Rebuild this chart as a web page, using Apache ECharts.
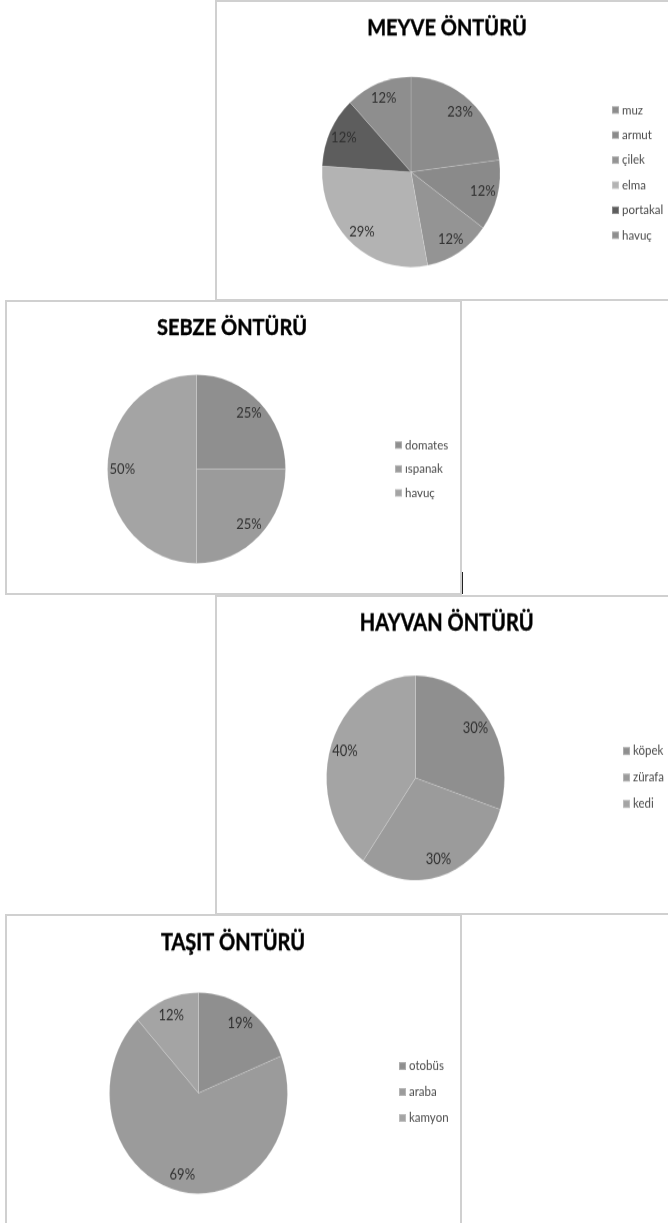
<!DOCTYPE html>
<html>
<head>
<meta charset="utf-8">
<script src="https://cdn.jsdelivr.net/npm/echarts@6/dist/echarts.min.js"></script>
<style>
  html, body { margin: 0; padding: 0; background: #fff; width: 668px; height: 1223px; overflow: hidden; position: relative; }
  .frame { position: absolute; box-sizing: border-box; border: 2px solid #d0d0d0; background: #fff; overflow: hidden; }
  .plot { position: absolute; left: -2px; top: -2px; transform-origin: 0 0; }
  .tick { position: absolute; left: 462px; top: 572px; width: 1px; height: 22px; background: #222; }
</style>
</head>
<body>
<div class="frame" id="f1" style="left:215px;top:0px;width:470px;height:301px;"><div class="plot" id="c1"></div></div>
<div class="frame" id="f2" style="left:5px;top:300px;width:457px;height:295px;"><div class="plot" id="c2"></div></div>
<div class="frame" id="f3" style="left:215px;top:595px;width:470px;height:320px;"><div class="plot" id="c3"></div></div>
<div class="frame" id="f4" style="left:5px;top:914px;width:457px;height:320px;"><div class="plot" id="c4"></div></div>
<div class="tick"></div>
<script>
// Fruit preferences
const meyveTitle = 'MEYVE ÖNTÜRÜ';
const meyveNames = ['muz', 'armut', 'çilek', 'elma', 'portakal', 'havuç'];
const meyveValues = [23, 12, 12, 29, 12, 12];

// Vegetable preferences
const sebzeTitle = 'SEBZE ÖNTÜRÜ';
const sebzeNames = ['domates', 'ıspanak', 'havuç'];
const sebzeValues = [25, 25, 50];

// Animal preferences
const hayvanTitle = 'HAYVAN ÖNTÜRÜ';
const hayvanNames = ['köpek', 'zürafa', 'kedi'];
const hayvanValues = [30, 30, 40];

// Vehicle preferences
const tasitTitle = 'TAŞIT ÖNTÜRÜ';
const tasitNames = ['otobüs', 'araba', 'kamyon'];
const tasitValues = [19, 69, 12];

// Grey palettes, one per chart
const meyveColors = ['#8c8c8c', '#8a8a8a', '#949494', '#b3b3b3', '#5d5d5d', '#8e8e8e'];
const triColors = ['#8f8f8f', '#9b9b9b', '#a4a4a4'];

// Layout of each panel (local coordinates, y before vertical stretch k)
const panels = [
  { el: 'c1', w: 470, h: 301, k: 1.07, title: meyveTitle, names: meyveNames, values: meyveValues, colors: meyveColors,
    cx: 196, cy: 160.7, tx: 232, ty: 26.2, lx: 396, ly: 102.8, step: 23.4 },
  { el: 'c2', w: 457, h: 295, k: 1.06, title: sebzeTitle, names: sebzeNames, values: sebzeValues, colors: triColors,
    cx: 191.5, cy: 159.4, tx: 227, ty: 26.4, lx: 389, ly: 136.8, step: 22.6 },
  { el: 'c3', w: 470, h: 320, k: 1.15, title: hayvanTitle, names: hayvanNames, values: hayvanValues, colors: triColors,
    cx: 200.5, cy: 159.1, tx: 231.7, ty: 24.3, lx: 407, ly: 135.7, step: 23 },
  { el: 'c4', w: 457, h: 320, k: 1.13, title: tasitTitle, names: tasitNames, values: tasitValues, colors: triColors,
    cx: 193.5, cy: 158.4, tx: 228, ty: 25.7, lx: 393, ly: 134.5, step: 23 }
];

const R = 89;
const LH = 14;

panels.forEach(function (p) {
  const el = document.getElementById(p.el);
  el.style.width = p.w + 'px';
  el.style.height = (p.h / p.k) + 'px';
  el.style.transform = 'scaleY(' + p.k + ')';
  const chart = echarts.init(el, null, { renderer: 'canvas' });

  const slices = p.names.map(function (n, i) {
    return { name: n, value: p.values[i], itemStyle: { color: p.colors[i] } };
  });
  const labels = p.names.map(function (n, i) {
    return { name: n, value: p.values[i] };
  });

  chart.setOption({
    animation: false,
    graphic: [{
      type: 'text', x: p.tx, y: p.ty,
      style: { text: p.title, font: 'bold 20px Lato', fill: '#000', stroke: '#000', lineWidth: 0.4,
               textAlign: 'center', textVerticalAlign: 'middle' }
    }],
    legend: {
      orient: 'vertical', left: p.lx, top: p.ly - LH / 2, padding: 0,
      itemGap: p.step - LH, itemWidth: 7, itemHeight: 7, icon: 'rect',
      selectedMode: false, data: p.names,
      textStyle: { fontFamily: 'Lato', fontSize: 11.5, color: '#4a4a4a', lineHeight: LH, padding: [0, 0, 0, -2] }
    },
    series: [
      {
        type: 'pie', center: [p.cx, p.cy], radius: [0, R], startAngle: 90, clockwise: true,
        silent: true, data: slices,
        label: { show: false }, labelLine: { show: false },
        itemStyle: { borderColor: 'rgba(255,255,255,0.25)', borderWidth: 0.6 }
      },
      {
        // ring used only to place the percentage labels near the rim
        type: 'pie', center: [p.cx, p.cy], radius: [0.6 * R, R], startAngle: 90, clockwise: true,
        silent: true, avoidLabelOverlap: false, data: labels,
        itemStyle: { color: 'rgba(0,0,0,0)', borderWidth: 0 },
        label: {
          show: true, position: 'inside', rotate: 0,
          formatter: function (d) { return d.value + '%'; },
          fontFamily: 'Lato', fontSize: 13, color: '#303030'
        },
        labelLine: { show: false }
      }
    ]
  });
});
</script>
</body>
</html>
